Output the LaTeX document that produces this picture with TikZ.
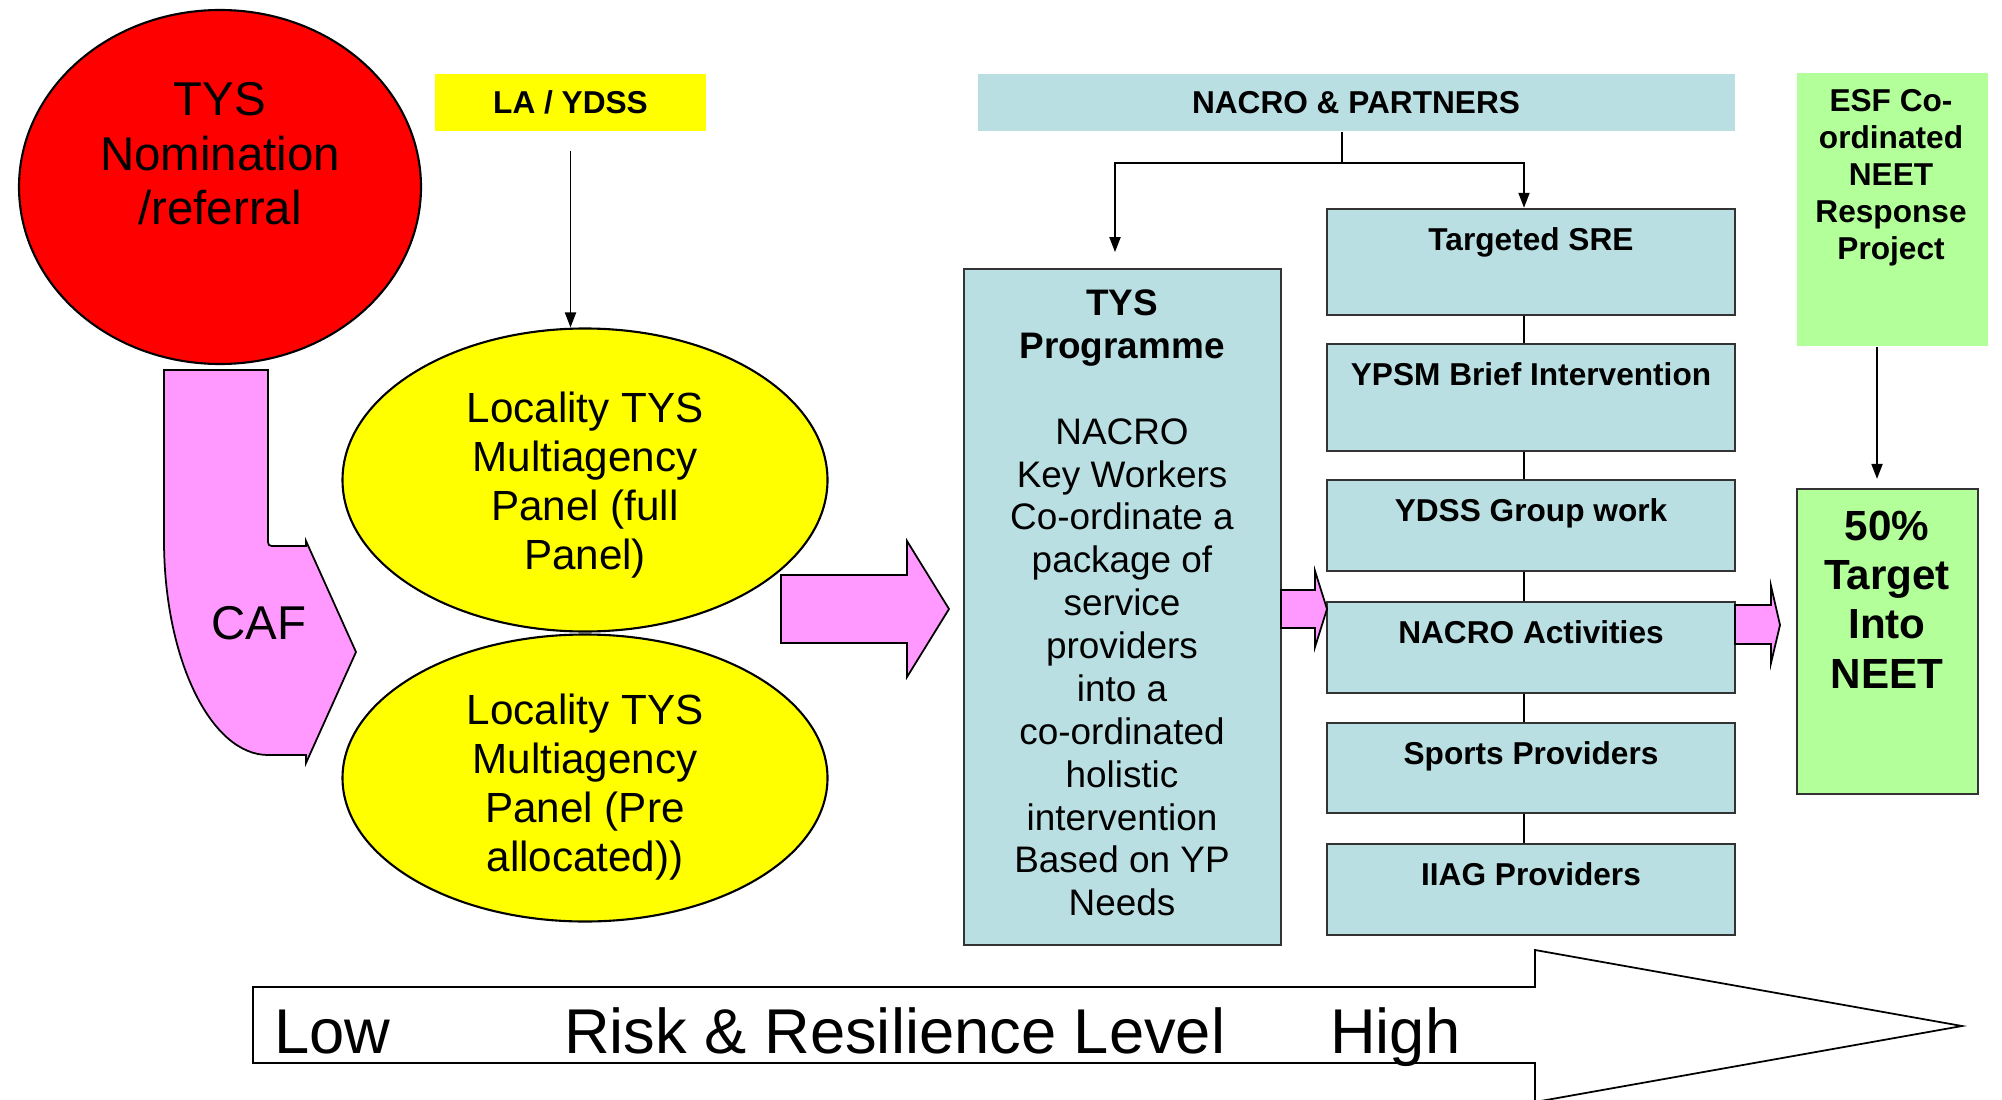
\documentclass[tikz,border=0pt]{standalone}
\usepackage{fontspec}
\setmainfont{Liberation Sans}
\usetikzlibrary{arrows.meta,shapes.geometric}
\definecolor{tysred}{RGB}{255,0,0}
\definecolor{tysyellow}{RGB}{255,255,0}
\definecolor{tyspink}{RGB}{255,153,255}
\definecolor{tysblue}{RGB}{185,223,226}
\definecolor{tysgreen}{RGB}{179,255,153}
\begin{document}
\begin{tikzpicture}[x=0.1mm,y=-0.1mm,
  panel/.style={ellipse,draw=black,line width=0.6pt,fill=tysyellow,minimum width=48.5mm,inner sep=0pt},
  sub/.style={rectangle,draw=black!80,line width=0.7pt,fill=tysblue,minimum width=40.8mm,inner sep=0pt},
  con/.style={-{Triangle[length=1.5mm,width=1.1mm]},line width=0.55pt},
  blockarrow/.style={fill=tyspink,draw=black,line width=0.5pt},
  subtxt/.style={font=\bfseries\fontsize{9}{10.4}\selectfont,anchor=base,yshift=-4.25mm,inner sep=0pt}]
\useasboundingbox (0,0) rectangle (2002,1099);
% left column
\filldraw[blockarrow] (164,370) -- (268,370) -- (268,538) .. controls (268,546) .. (276,546) -- (306,546) -- (306,541) -- (356,652) -- (306,763) -- (306,755) -- (268,755) .. controls (211,755) and (164,659) .. (164,540) -- cycle;
\node[ellipse,draw=black,line width=0.6pt,fill=tysred,minimum width=40.2mm,minimum height=35.4mm] (N) at (220,187) {};
\node[font=\fontsize{13.5}{15.5}\selectfont,align=center] (Nt) at (220,154) {TYS\\Nomination\\/referral};
\node[font=\fontsize{13.5}{15.5}\selectfont] (CAF) at (259,623) {CAF};
\node[rectangle,fill=tysyellow,minimum width=27.1mm,minimum height=5.7mm,font=\bfseries\fontsize{9}{10.4}\selectfont] (L) at (570.5,102.5) {LA / YDSS};
\node[panel,minimum height=30.3mm] (P1) at (585,480) {};
\node[panel,minimum height=28.7mm] (P2) at (585,778) {};
\node[font=\fontsize{12}{14}\selectfont,align=center] (P1t) at (585,485) {Locality TYS\\Multiagency\\Panel (full\\Panel)};
\node[font=\fontsize{12}{14}\selectfont,align=center] (P2t) at (585,787) {Locality TYS\\Multiagency\\Panel (Pre\\allocated))};
\draw[con,shorten <=1.9mm] (L.south) -- (L.south |- P1.north);
\filldraw[blockarrow] (781,575) -- (907,575) -- (907,541) -- (949,609) -- (907,677) -- (907,643) -- (781,643) -- cycle;
% NACRO and partners
\node[rectangle,fill=tysblue,minimum width=75.7mm,minimum height=5.7mm,font=\bfseries\fontsize{9}{10.4}\selectfont] (NP) at (1356,102.5) {NACRO \& PARTNERS};
\node[rectangle,draw=black!80,line width=0.5pt,fill=tysblue,minimum width=31.7mm,minimum height=67.6mm] (T) at (1122.5,607) {};
\node[font=\fontsize{10.5}{12.2}\selectfont,align=center] (Tt) at (1122,603) {\textbf{TYS}\\\textbf{Programme}\\[12.2pt]NACRO\\Key Workers\\Co-ordinate a\\package of\\service\\providers\\into a\\co-ordinated\\holistic\\intervention\\Based on YP\\Needs};
\node[sub,minimum height=10.6mm] (S1) at (1531,262) {};
\node[sub,minimum height=10.7mm] (S2) at (1531,397.5) {};
\node[sub,minimum height=9.1mm] (S3) at (1531,525.5) {};
\node[sub,minimum height=9.1mm] (S4) at (1531,647.5) {};
\node[sub,minimum height=9.0mm] (S5) at (1531,768) {};
\node[sub,minimum height=9.1mm] (S6) at (1531,889.5) {};
\draw (S1.north) node[subtxt] (S1t) {Targeted SRE};
\draw (S2.north) node[subtxt] (S2t) {YPSM Brief Intervention};
\draw (S3.north) node[subtxt] (S3t) {YDSS Group work};
\draw (S4.north) node[subtxt] (S4t) {NACRO Activities};
\draw (S5.north) node[subtxt] (S5t) {Sports Providers};
\draw (S6.north) node[subtxt] (S6t) {IIAG Providers};
\draw[line width=0.55pt] (S1.south -| 1524,0) -- (S2.north -| 1524,0);
\draw[line width=0.55pt] (S2.south -| 1524,0) -- (S3.north -| 1524,0);
\draw[line width=0.55pt] (S3.south -| 1524,0) -- (S4.north -| 1524,0);
\draw[line width=0.55pt] (S4.south -| 1524,0) -- (S5.north -| 1524,0);
\draw[line width=0.55pt] (S5.south -| 1524,0) -- (S6.north -| 1524,0);
\coordinate (J) at (1342,163);
\draw[line width=0.55pt] (NP.south -| J) -- (J);
\draw[con] (J) -| (S1.north -| 1524,0);
\draw[con,shorten >=1.6mm] (J) -| (T.north -| 1115,0);
\filldraw[blockarrow] (1281,590) -- (1315,590) -- (1315,571) -- (1327,609) -- (1315,647) -- (1315,628) -- (1281,628) -- cycle;
% ESF side
\node[rectangle,fill=tysgreen,minimum width=19.1mm,minimum height=27.3mm] (E) at (1892.5,209.5) {};
\node[font=\bfseries\fontsize{9}{10.55}\selectfont,align=center] (Et) at (1891,178) {ESF Co-\\ordinated\\NEET\\Response\\Project};
\node[rectangle,draw=black!80,line width=0.6pt,fill=tysgreen,minimum width=18.1mm,minimum height=30.5mm] (G) at (1887.5,641.5) {};
\node[font=\bfseries\fontsize{12}{14}\selectfont,align=center] (Gt) at (1887,599.5) {50\%\\Target\\Into\\NEET};
\draw[con,shorten >=0.9mm] (E.south -| 1877,0) -- (G.north -| 1877,0);
\filldraw[blockarrow] (1735,605) -- (1771,605) -- (1771,586) -- (1780,625) -- (1771,663) -- (1771,644) -- (1735,644) -- cycle;
% risk scale
\filldraw[fill=white,draw=black,line width=0.5pt] (253,987) -- (1535,987) -- (1535,950) -- (1962,1026) -- (1535,1102) -- (1535,1063) -- (253,1063) -- cycle;
\node[font=\fontsize{18}{21}\selectfont,anchor=base west,inner sep=0pt] (Lo) at (273.5,1053) {Low};
\node[font=\fontsize{18}{21}\selectfont,anchor=base west,inner sep=0pt] (R) at (563.5,1053) {Risk \& Resilience Level};
\node[font=\fontsize{18}{21}\selectfont,anchor=base west,inner sep=0pt] (Hi) at (1329.5,1053) {High};
\end{tikzpicture}
\end{document}
